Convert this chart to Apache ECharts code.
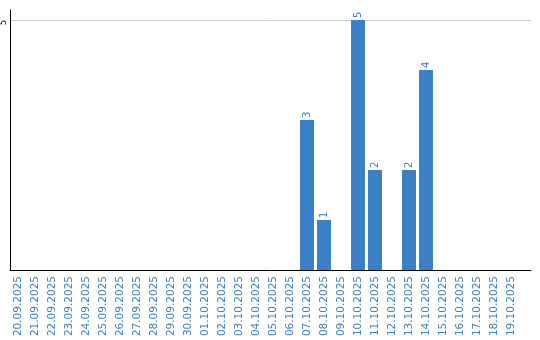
<!DOCTYPE html>
<html>
<head>
<meta charset="utf-8">
<script src="https://cdn.jsdelivr.net/npm/echarts@6/dist/echarts.min.js"></script>
<style>html,body{margin:0;padding:0;background:#fff}#c{width:540px;height:340px}</style>
</head>
<body>
<div id="c"></div>
<script>
const categories = ['20.09.2025','21.09.2025','22.09.2025','23.09.2025','24.09.2025','25.09.2025','26.09.2025','27.09.2025','28.09.2025','29.09.2025','30.09.2025','01.10.2025','02.10.2025','03.10.2025','04.10.2025','05.10.2025','06.10.2025','07.10.2025','08.10.2025','09.10.2025','10.10.2025','11.10.2025','12.10.2025','13.10.2025','14.10.2025','15.10.2025','16.10.2025','17.10.2025','18.10.2025','19.10.2025'];
const values = [0,0,0,0,0,0,0,0,0,0,0,0,0,0,0,0,0,3,1,0,5,2,0,2,4,0,0,0,0,0];
const yTickLabels = [5];

const blue = '#3b7fc4';
const chart = echarts.init(document.getElementById('c'), null, {renderer:'canvas'});
chart.setOption({
  animation: false,
  grid: [
    {left: 9.5, top: 10, width: 510, height: 260},
    {left: 10, top: 10, width: 521, height: 260}
  ],
  xAxis: [
    {type:'category', gridIndex:0, data: categories,
     axisLine:{show:false}, axisTick:{show:false},
     axisLabel:{rotate:90, interval:0, margin:6, color: blue, fontSize:10.5, fontFamily:'DejaVu Sans'}},
    {type:'category', gridIndex:1, data: categories,
     axisLine:{show:true, lineStyle:{color:'#000', width:1}}, axisTick:{show:false}, axisLabel:{show:false}}
  ],
  yAxis: [
    {type:'value', gridIndex:0, min:0, max:5.2, show:false},
    {type:'value', gridIndex:1, min:0, max:5.2, interval:5,
     axisLine:{show:true, lineStyle:{color:'#000', width:1}}, axisTick:{show:false},
     splitLine:{show:true, showMinLine:false, showMaxLine:false, lineStyle:{color:'#cccccc'}},
     axisLabel:{rotate:90, margin:2, fontSize:8, color:'#000', fontFamily:'DejaVu Sans',
       align:'right', verticalAlign:'bottom',
       formatter: v => yTickLabels.includes(v) ? String(v) : ''}}
  ],
  series: [{
    type:'bar', xAxisIndex:0, yAxisIndex:0, data: values,
    barWidth: 14,
    itemStyle:{color: blue},
    label:{show:true, position:'top', rotate:90, align:'left', verticalAlign:'middle', distance:2,
      color: blue, fontSize:10, fontFamily:'DejaVu Sans',
      formatter: p => p.value ? String(p.value) : ''}
  }]
});
</script>
</body>
</html>
